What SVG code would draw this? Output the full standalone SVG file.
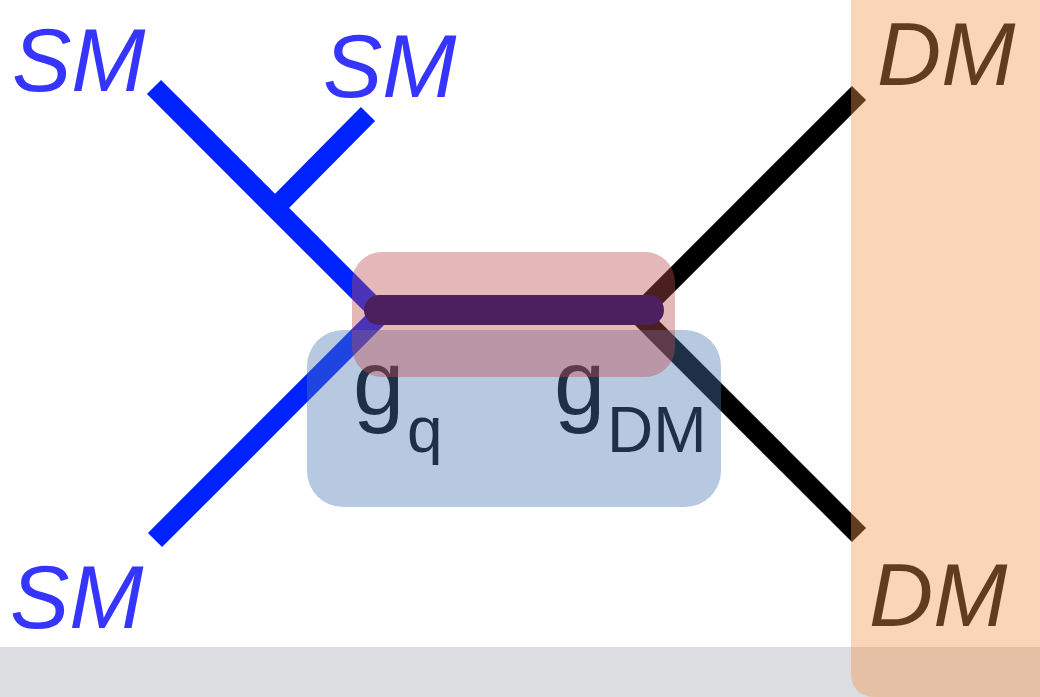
<svg xmlns="http://www.w3.org/2000/svg" width="1040" height="697" viewBox="0 0 1040 697">
  <style>
    .sm { font-family: "Liberation Sans", Arial, sans-serif; font-style: italic; font-size: 89px; fill: #3535ff; }
    .dm { font-family: "Liberation Sans", Arial, sans-serif; font-style: italic; font-size: 89px; fill: #000000; }
    .g { font-family: "Liberation Sans", Arial, sans-serif; font-size: 92px; fill: #000000; }
    .sub { font-family: "Liberation Sans", Arial, sans-serif; font-size: 64px; fill: #000000; }
    .blue { stroke: #0022ff; stroke-width: 20; fill: none; stroke-linecap: butt; }
    .black { stroke: #000000; stroke-width: 20; fill: none; stroke-linecap: butt; }
    .overlay { opacity: 0.4; }
  </style>
  <rect x="0" y="0" width="1040" height="697" fill="#ffffff"/>
  <rect id="band" x="0" y="647" width="1040" height="50" fill="#dcdde0"/>

  <g id="connectors">
    <line class="blue" x1="154" y1="87" x2="381" y2="314"/>
    <line class="blue" x1="368" y1="114" x2="275" y2="208"/>
    <line class="blue" x1="155" y1="540" x2="381" y2="314"/>
    <line class="black" x1="859" y1="93" x2="638" y2="314"/>
    <line class="black" x1="859" y1="535" x2="638" y2="314"/>
    <line x1="379" y1="310" x2="649" y2="310" stroke="#03006b" stroke-width="30" stroke-linecap="round"/>
  </g>

  <g id="labels-sm">
    <text class="sm" x="12" y="91">SM</text>
    <text class="sm" x="323" y="97">SM</text>
    <text class="sm" x="10" y="628">SM</text>
  </g>

  <g id="coupling-labels">
    <text class="g" x="353" y="415">g</text>
    <text class="sub" x="407" y="452">q</text>
    <text class="g" x="554" y="415">g</text>
    <text class="sub" x="607" y="452">DM</text>
  </g>

  <g id="labels-dm">
    <text class="dm" x="877" y="85">DM</text>
    <text class="dm" x="869" y="626">DM</text>
  </g>

  <g id="blue-box">
    <rect class="overlay" x="307" y="330" width="414" height="177" rx="36" fill="#4b78b4"/>
  </g>
  <g id="red-box">
    <rect class="overlay" x="352" y="252" width="323" height="125" rx="30" fill="#bc4d4d"/>
  </g>
  <g id="dm-region">
    <rect class="overlay" x="851" y="-40" width="230" height="737" rx="22" fill="#f5964a"/>
  </g>
</svg>
